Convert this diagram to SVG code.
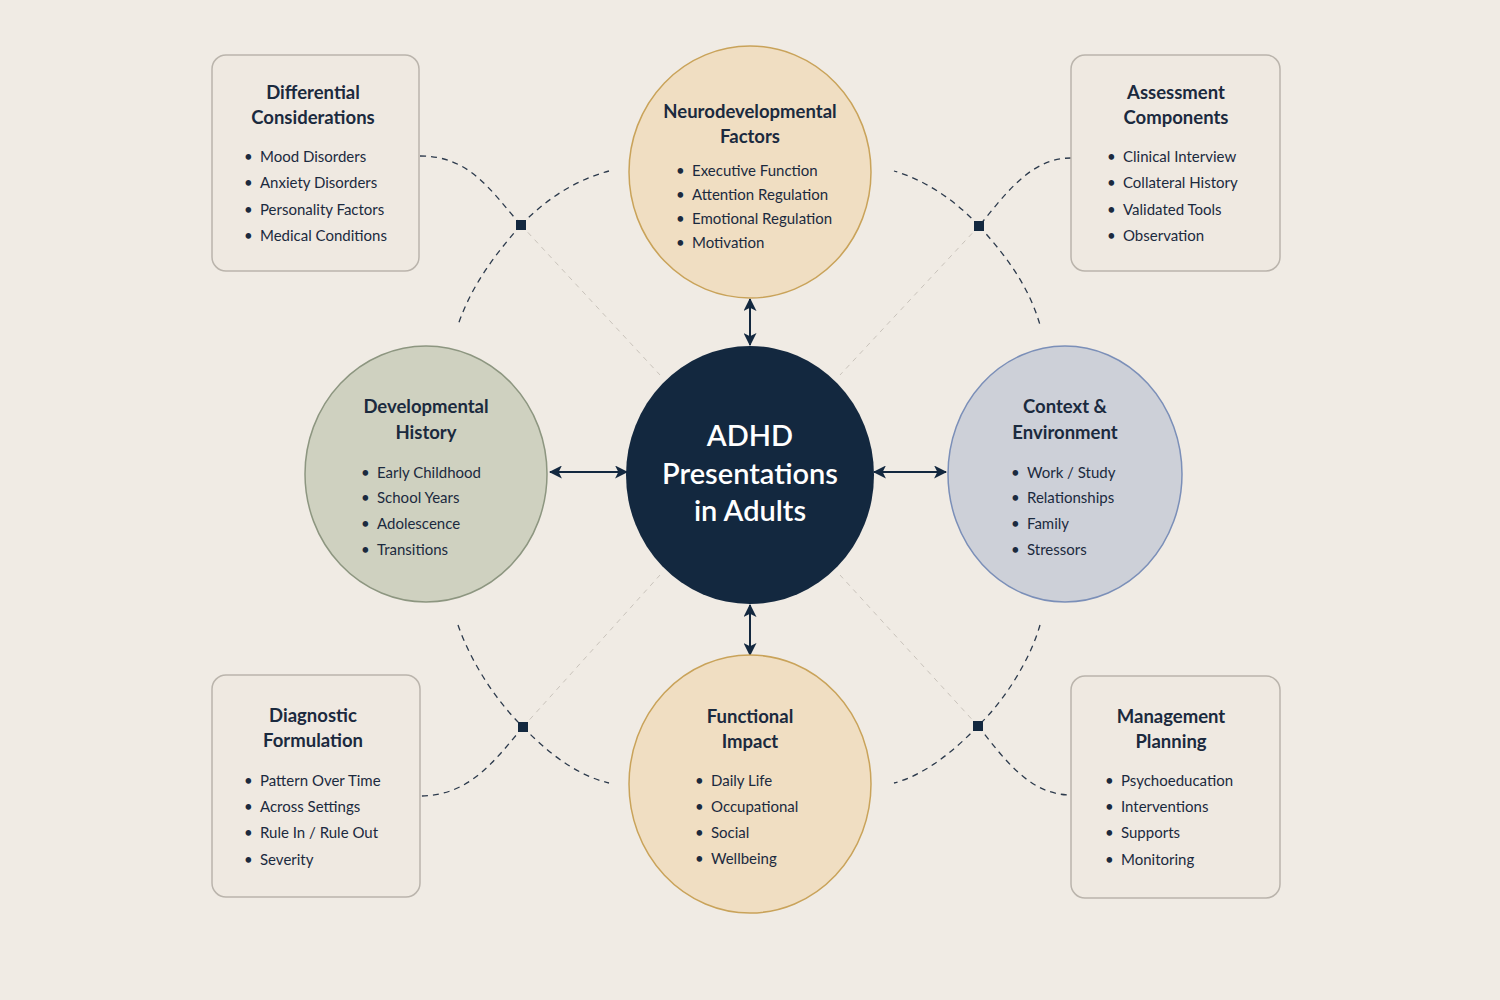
<svg xmlns="http://www.w3.org/2000/svg" width="1500" height="1000" viewBox="0 0 1500 1000">
<defs>
<marker id="ah" viewBox="0 0 12 12" refX="11" refY="6" markerWidth="13" markerHeight="13" markerUnits="userSpaceOnUse" orient="auto-start-reverse"><path d="M0,0 L12,6 L0,12 L3,6 z" fill="#13283f"/></marker>
<style>
text{font-family:Lato,"Noto Sans",sans-serif;fill:#1b2a3e}
.t{font-size:18.5px;font-weight:bold;text-anchor:middle}
.i{font-size:15px}
.box{fill:#efe9e1;stroke:#bab4ac;stroke-width:1.5}
.dash{fill:none;stroke:#2c3a4c;stroke-width:1.3;stroke-dasharray:6 5}
.faint{fill:none;stroke:#c9c3bb;stroke-width:1;stroke-dasharray:5 5}
.arr{stroke:#13283f;stroke-width:2;marker-start:url(#ah);marker-end:url(#ah)}
.sq{fill:#13283f}
</style>
</defs>
<rect width="1500" height="1000" fill="#f0ebe4"/>
<g id="connectors">
<path class="faint" d="M521,225 L660,375"/><path class="faint" d="M979,226 L840,375"/>
<path class="faint" d="M523,727 L660,575"/><path class="faint" d="M978,726 L840,575"/>
<path class="dash" d="M420,156 C470,156 490,190 521,225"/><path class="dash" d="M521,225 C545,200 575,180 609,171"/><path class="dash" d="M521,225 C490,260 470,290 458,325"/>
<path class="dash" d="M1071,158 C1030,158 1005,195 979,226"/><path class="dash" d="M979,226 C955,200 925,180 894,171"/><path class="dash" d="M979,226 C1010,260 1030,290 1040,325"/>
<path class="dash" d="M458,625 C470,660 495,700 523,727"/><path class="dash" d="M523,727 C545,750 575,775 609,783"/><path class="dash" d="M523,727 C495,760 470,796 420,796"/>
<path class="dash" d="M1040,625 C1030,660 1005,700 978,726"/><path class="dash" d="M978,726 C955,750 925,775 894,783"/><path class="dash" d="M978,726 C1005,760 1030,795 1071,795"/>
<rect class="sq" x="516" y="220" width="10" height="10"/><rect class="sq" x="974" y="221" width="10" height="10"/>
<rect class="sq" x="518" y="722" width="10" height="10"/><rect class="sq" x="973" y="721" width="10" height="10"/>
<line class="arr" x1="750" y1="299" x2="750" y2="345"/><line class="arr" x1="750" y1="605" x2="750" y2="655"/>
<line class="arr" x1="550" y1="472" x2="627" y2="472"/><line class="arr" x1="874" y1="472" x2="946" y2="472"/>
</g>
<g id="center"><ellipse cx="750" cy="475" rx="124" ry="129" fill="#13283f"/>
<text x="750" y="446" text-anchor="middle" font-size="29" font-weight="600" style="fill:#fff">ADHD</text>
<text x="750" y="484" text-anchor="middle" font-size="29" font-weight="600" style="fill:#fff">Presentations</text>
<text x="750" y="521" text-anchor="middle" font-size="29" font-weight="600" style="fill:#fff">in Adults</text></g>
<g id="neuro"><ellipse cx="750" cy="172" rx="121" ry="126" fill="#f0dec2" stroke="#c9a35a" stroke-width="1.5"/>
<text class="t" x="750" y="118">Neurodevelopmental</text><text class="t" x="750" y="143">Factors</text>
<text class="i" x="676" y="176">•<tspan x="692">Executive Function</tspan></text><text class="i" x="676" y="200">•<tspan x="692">Attention Regulation</tspan></text><text class="i" x="676" y="224">•<tspan x="692">Emotional Regulation</tspan></text><text class="i" x="676" y="248">•<tspan x="692">Motivation</tspan></text></g>
<g id="functional"><ellipse cx="750" cy="784" rx="121" ry="129" fill="#f0dec2" stroke="#c9a35a" stroke-width="1.5"/>
<text class="t" x="750" y="723">Functional</text><text class="t" x="750" y="748">Impact</text>
<text class="i" x="695" y="786">•<tspan x="711">Daily Life</tspan></text><text class="i" x="695" y="812">•<tspan x="711">Occupational</tspan></text><text class="i" x="695" y="838">•<tspan x="711">Social</tspan></text><text class="i" x="695" y="864">•<tspan x="711">Wellbeing</tspan></text></g>
<g id="developmental"><ellipse cx="426" cy="474" rx="121" ry="128" fill="#cfd1c0" stroke="#8d9680" stroke-width="1.5"/>
<text class="t" x="426" y="413">Developmental</text><text class="t" x="426" y="439">History</text>
<text class="i" x="361" y="478">•<tspan x="377">Early Childhood</tspan></text><text class="i" x="361" y="503">•<tspan x="377">School Years</tspan></text><text class="i" x="361" y="529">•<tspan x="377">Adolescence</tspan></text><text class="i" x="361" y="555">•<tspan x="377">Transitions</tspan></text></g>
<g id="context"><ellipse cx="1065" cy="474" rx="117" ry="128" fill="#cdd0d8" stroke="#7b8fb8" stroke-width="1.5"/>
<text class="t" x="1065" y="413">Context &amp;</text><text class="t" x="1065" y="439">Environment</text>
<text class="i" x="1011" y="478">•<tspan x="1027">Work / Study</tspan></text><text class="i" x="1011" y="503">•<tspan x="1027">Relationships</tspan></text><text class="i" x="1011" y="529">•<tspan x="1027">Family</tspan></text><text class="i" x="1011" y="555">•<tspan x="1027">Stressors</tspan></text></g>
<g id="differential"><rect class="box" x="212" y="55" width="207" height="216" rx="14"/>
<text class="t" x="313" y="99">Differential</text><text class="t" x="313" y="124">Considerations</text>
<text class="i" x="244" y="162">•<tspan x="260">Mood Disorders</tspan></text><text class="i" x="244" y="188">•<tspan x="260">Anxiety Disorders</tspan></text><text class="i" x="244" y="215">•<tspan x="260">Personality Factors</tspan></text><text class="i" x="244" y="241">•<tspan x="260">Medical Conditions</tspan></text></g>
<g id="assessment"><rect class="box" x="1071" y="55" width="209" height="216" rx="14"/>
<text class="t" x="1176" y="99">Assessment</text><text class="t" x="1176" y="124">Components</text>
<text class="i" x="1107" y="162">•<tspan x="1123">Clinical Interview</tspan></text><text class="i" x="1107" y="188">•<tspan x="1123">Collateral History</tspan></text><text class="i" x="1107" y="215">•<tspan x="1123">Validated Tools</tspan></text><text class="i" x="1107" y="241">•<tspan x="1123">Observation</tspan></text></g>
<g id="diagnostic"><rect class="box" x="212" y="675" width="208" height="222" rx="14"/>
<text class="t" x="313" y="722">Diagnostic</text><text class="t" x="313" y="747">Formulation</text>
<text class="i" x="244" y="786">•<tspan x="260">Pattern Over Time</tspan></text><text class="i" x="244" y="812">•<tspan x="260">Across Settings</tspan></text><text class="i" x="244" y="838">•<tspan x="260">Rule In / Rule Out</tspan></text><text class="i" x="244" y="865">•<tspan x="260">Severity</tspan></text></g>
<g id="management"><rect class="box" x="1071" y="676" width="209" height="222" rx="14"/>
<text class="t" x="1171" y="723">Management</text><text class="t" x="1171" y="748">Planning</text>
<text class="i" x="1105" y="786">•<tspan x="1121">Psychoeducation</tspan></text><text class="i" x="1105" y="812">•<tspan x="1121">Interventions</tspan></text><text class="i" x="1105" y="838">•<tspan x="1121">Supports</tspan></text><text class="i" x="1105" y="865">•<tspan x="1121">Monitoring</tspan></text></g>
</svg>
